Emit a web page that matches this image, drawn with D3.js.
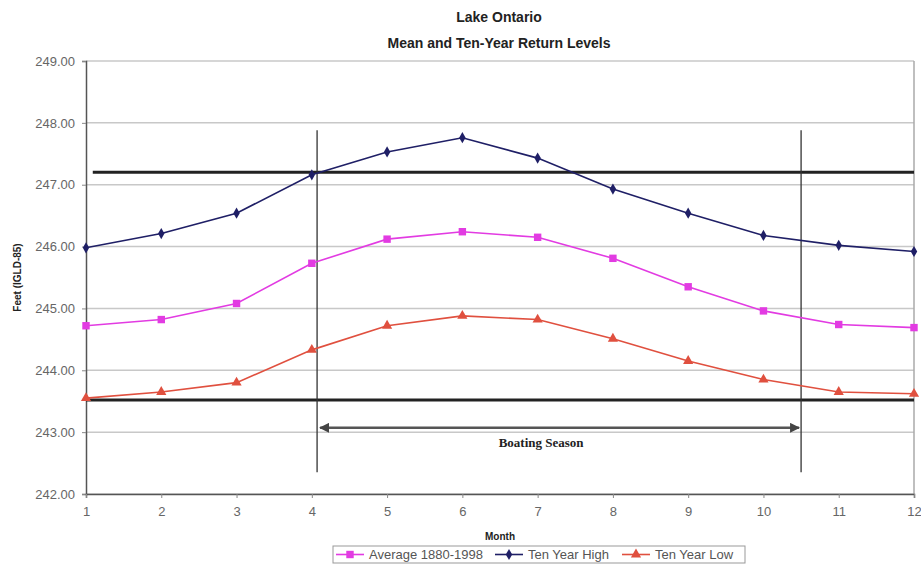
<!DOCTYPE html>
<html>
  <head>
    <title>Lake Ontario</title>
    <script src="https://d3js.org/d3.v7.min.js"></script>
    <style type="text/css">
      body { margin: 0; background: #fff; }
      text { font-family: Arial, "Liberation Sans", sans-serif; }
    </style>
  </head>
  <body>
    <div id="chart"></div>
    <script>
      // data
      var months = [1, 2, 3, 4, 5, 6, 7, 8, 9, 10, 11, 12];
      var average = [244.72, 244.82, 245.08, 245.73, 246.12, 246.24, 246.15, 245.81, 245.35, 244.96, 244.74, 244.69];
      var tenYearHigh = [245.98, 246.21, 246.54, 247.16, 247.53, 247.76, 247.43, 246.93, 246.54, 246.18, 246.02, 245.92];
      var tenYearLow = [243.55, 243.65, 243.80, 244.33, 244.72, 244.88, 244.82, 244.51, 244.15, 243.85, 243.65, 243.62];
      var yTicks = [242, 243, 244, 245, 246, 247, 248, 249];
      var limitLevels = [247.2, 243.52];     // heavy horizontal lines
      var seasonBounds = [4.07, 10.5];       // boating season (month)
      var seasonSpan = [242.35, 247.88];     // vertical extent of season lines
      var arrowLevel = 243.07;

      var width = 921, height = 565;
      var plotLeft = 86, plotRight = 914, plotTop = 61, plotBottom = 494;

      var x = d3.scaleLinear().domain([1, 12]).range([plotLeft, plotRight]);
      var y = d3.scaleLinear().domain([242, 249]).range([plotBottom, plotTop]);

      var svg = d3.select("#chart").append("svg")
        .attr("width", width)
        .attr("height", height);

      // gridlines
      svg.append("g")
        .selectAll("line")
        .data(yTicks)
        .enter().append("line")
          .attr("x1", plotLeft).attr("x2", plotRight)
          .attr("y1", function(d) { return y(d); })
          .attr("y2", function(d) { return y(d); })
          .attr("stroke", "#c8c8c8")
          .attr("stroke-width", 1.5);

      // right border
      svg.append("line")
        .attr("x1", plotRight).attr("x2", plotRight)
        .attr("y1", plotTop).attr("y2", plotBottom)
        .attr("stroke", "#aaa").attr("stroke-width", 1.5);

      // axes
      var yAxis = svg.append("g")
        .attr("transform", "translate(" + plotLeft + ",0)")
        .call(d3.axisLeft(y).tickValues(yTicks).tickSize(4).tickFormat(d3.format(".2f")));
      var xAxis = svg.append("g")
        .attr("transform", "translate(0," + plotBottom + ")")
        .call(d3.axisBottom(x).tickValues(months).tickSize(4).tickFormat(d3.format("d")));
      [yAxis, xAxis].forEach(function(a) {
        a.select(".domain").attr("stroke", "#555").attr("stroke-width", 1.5);
        a.selectAll(".tick line").attr("stroke", "#888");
        a.selectAll("text").attr("fill", "#666").style("font-size", "13px");
      });
      yAxis.selectAll("text").attr("x", -11);
      xAxis.selectAll("text").attr("y", 13);

      // limit lines
      svg.append("g")
        .selectAll("line")
        .data(limitLevels)
        .enter().append("line")
          .attr("x1", function(d, i) { return i == 0 ? x(1.09) : x(1); })
          .attr("x2", plotRight)
          .attr("y1", function(d) { return y(d); })
          .attr("y2", function(d) { return y(d); })
          .attr("stroke", "#222")
          .attr("stroke-width", 3);

      // boating season lines
      svg.append("g")
        .selectAll("line")
        .data(seasonBounds)
        .enter().append("line")
          .attr("x1", function(d) { return x(d); })
          .attr("x2", function(d) { return x(d); })
          .attr("y1", y(seasonSpan[1]))
          .attr("y2", y(seasonSpan[0]))
          .attr("stroke", "#333")
          .attr("stroke-width", 1.3);

      var defs = svg.append("defs");
      defs.append("marker")
        .attr("id", "arrow")
        .attr("viewBox", "0 0 10 10")
        .attr("refX", 9).attr("refY", 5)
        .attr("markerWidth", 4).attr("markerHeight", 4)
        .attr("orient", "auto-start-reverse")
        .append("path").attr("d", "M0,0L10,5L0,10z").attr("fill", "#444");

      svg.append("line")
        .attr("x1", x(seasonBounds[0]) + 3).attr("x2", x(seasonBounds[1]) - 2)
        .attr("y1", y(arrowLevel)).attr("y2", y(arrowLevel))
        .attr("stroke", "#555").attr("stroke-width", 2.5)
        .attr("marker-start", "url(#arrow)")
        .attr("marker-end", "url(#arrow)");

      svg.append("text")
        .attr("x", x((seasonBounds[0] + seasonBounds[1]) / 2) - 18)
        .attr("y", y(arrowLevel) + 19)
        .attr("text-anchor", "middle")
        .style("font-family", "'Liberation Serif', 'Times New Roman', serif")
        .style("font-weight", "bold")
        .style("font-size", "13px")
        .attr("fill", "#222")
        .text("Boating Season");

      // series
      var series = [
        { name: "Average 1880-1998", values: average, color: "#e23be2", marker: "square" },
        { name: "Ten Year High", values: tenYearHigh, color: "#1f1f66", marker: "diamond" },
        { name: "Ten Year Low", values: tenYearLow, color: "#e0503f", marker: "triangle" }
      ];
      var symbolType = { square: d3.symbolSquare, diamond: d3.symbolDiamond, triangle: d3.symbolTriangle };
      var symbolSize = { square: 55, diamond: 36, triangle: 45 };

      var line = d3.line()
        .x(function(d, i) { return x(months[i]); })
        .y(function(d) { return y(d); });

      series.forEach(function(s) {
        svg.append("path")
          .datum(s.values)
          .attr("d", line)
          .attr("fill", "none")
          .attr("stroke", s.color)
          .attr("stroke-width", 1.6);
        svg.append("g")
          .selectAll("path")
          .data(s.values)
          .enter().append("path")
            .attr("transform", function(d, i) { return "translate(" + x(months[i]) + "," + y(d) + ")"; })
            .attr("d", d3.symbol().type(symbolType[s.marker]).size(symbolSize[s.marker]))
            .attr("fill", s.color);
      });

      // titles
      svg.append("text")
        .attr("x", 499).attr("y", 22)
        .attr("text-anchor", "middle")
        .style("font-weight", "bold").style("font-size", "14px")
        .attr("fill", "#222")
        .text("Lake Ontario");
      svg.append("text")
        .attr("x", 499).attr("y", 48)
        .attr("text-anchor", "middle")
        .style("font-weight", "bold").style("font-size", "14px")
        .attr("fill", "#222")
        .text("Mean and Ten-Year Return Levels");

      svg.append("text")
        .attr("transform", "translate(21," + ((plotTop + plotBottom) / 2) + ") rotate(-90)")
        .attr("text-anchor", "middle")
        .style("font-weight", "bold").style("font-size", "10px")
        .attr("fill", "#222")
        .text("Feet (IGLD-85)");

      svg.append("text")
        .attr("x", 500).attr("y", 540)
        .attr("text-anchor", "middle")
        .style("font-weight", "bold").style("font-size", "10px")
        .attr("fill", "#222")
        .text("Month");

      // legend
      var legend = svg.append("g").attr("transform", "translate(333,546)");
      legend.append("rect")
        .attr("width", 412).attr("height", 17)
        .attr("fill", "#fff").attr("stroke", "#999");
      var offsets = [3, 162, 289];
      series.forEach(function(s, i) {
        var g = legend.append("g").attr("transform", "translate(" + offsets[i] + ",8.5)");
        g.append("line").attr("x1", 0).attr("x2", 28).attr("stroke", s.color).attr("stroke-width", 1.6);
        g.append("path").attr("transform", "translate(14,0)")
          .attr("d", d3.symbol().type(symbolType[s.marker]).size(symbolSize[s.marker]))
          .attr("fill", s.color);
        g.append("text").attr("x", 33).attr("y", 4.5)
          .style("font-size", "13px").attr("fill", "#555")
          .text(s.name);
      });
    </script>
  </body>
</html>
